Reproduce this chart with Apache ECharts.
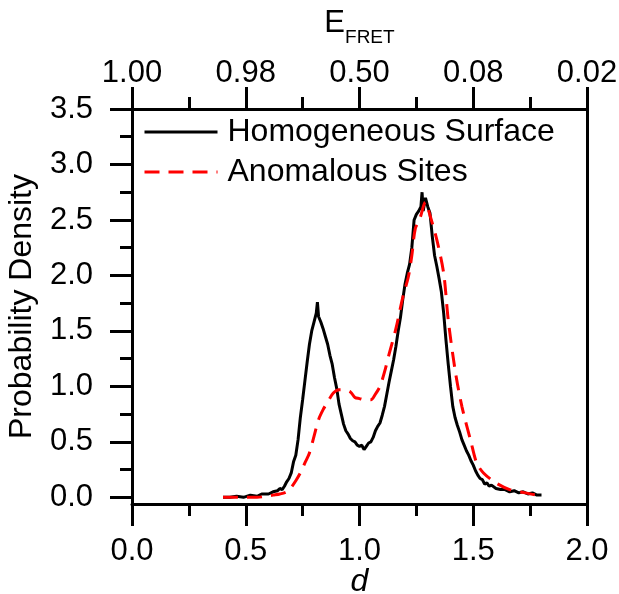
<!DOCTYPE html>
<html>
<head>
<meta charset="utf-8">
<script src="https://cdn.jsdelivr.net/npm/echarts@6/dist/echarts.min.js"></script>
<style>html,body{margin:0;padding:0;background:#fff;}#c{width:619px;height:594px;}</style>
</head>
<body>
<div id="c"></div>
<script>
// ---- data ----
var homX = [0.40,0.43,0.46,0.49,0.52,0.55,0.57,0.60,0.62,0.64,0.65,0.66,0.67,0.68,0.69,0.70,0.71,0.72,0.73,0.74,0.75,0.76,0.77,0.78,0.79,0.80,0.81,0.815,0.82,0.83,0.84,0.85,0.86,0.87,0.88,0.89,0.90,0.91,0.92,0.93,0.94,0.95,0.96,0.97,0.98,0.99,1.00,1.01,1.02,1.03,1.04,1.05,1.06,1.07,1.08,1.09,1.10,1.11,1.12,1.13,1.14,1.15,1.16,1.17,1.18,1.19,1.20,1.21,1.22,1.23,1.24,1.25,1.26,1.27,1.275,1.28,1.29,1.30,1.31,1.32,1.33,1.34,1.35,1.36,1.37,1.38,1.39,1.40,1.41,1.42,1.43,1.44,1.45,1.46,1.47,1.48,1.49,1.50,1.51,1.52,1.53,1.54,1.55,1.56,1.57,1.58,1.60,1.62,1.64,1.66,1.68,1.70,1.72,1.74,1.76,1.78,1.80];
var homY = [0.00,0.00,0.01,0.00,0.02,0.01,0.03,0.03,0.05,0.06,0.08,0.07,0.10,0.14,0.17,0.22,0.32,0.38,0.52,0.72,0.88,1.05,1.22,1.38,1.50,1.58,1.66,1.76,1.63,1.58,1.52,1.45,1.38,1.28,1.20,1.08,0.98,0.84,0.75,0.66,0.60,0.57,0.53,0.51,0.50,0.47,0.46,0.47,0.43,0.46,0.49,0.50,0.54,0.60,0.64,0.67,0.74,0.82,0.93,1.04,1.14,1.24,1.36,1.50,1.62,1.78,1.92,2.02,2.10,2.25,2.50,2.55,2.58,2.62,2.75,2.58,2.70,2.62,2.56,2.35,2.18,2.08,1.97,1.85,1.66,1.42,1.20,1.00,0.82,0.72,0.65,0.59,0.52,0.47,0.42,0.38,0.33,0.29,0.24,0.20,0.17,0.16,0.12,0.13,0.10,0.11,0.08,0.07,0.07,0.05,0.06,0.04,0.05,0.03,0.04,0.02,0.02];
var anoX = [0.40,0.45,0.50,0.55,0.59,0.62,0.65,0.68,0.70,0.72,0.74,0.76,0.78,0.80,0.82,0.84,0.86,0.885,0.91,0.93,0.96,0.98,1.00,1.02,1.05,1.07,1.09,1.11,1.13,1.16,1.19,1.215,1.23,1.245,1.265,1.29,1.31,1.34,1.37,1.39,1.42,1.45,1.49,1.515,1.545,1.60,1.66,1.73,1.80];
var anoY = [0.00,0.00,0.00,0.00,0.01,0.02,0.03,0.05,0.09,0.15,0.22,0.31,0.40,0.55,0.70,0.79,0.86,0.94,0.97,0.97,0.95,0.90,0.89,0.88,0.88,0.93,1.00,1.13,1.29,1.52,1.80,1.99,2.18,2.42,2.51,2.66,2.54,2.32,2.02,1.60,1.15,0.82,0.50,0.31,0.22,0.13,0.07,0.04,0.01];
var seriesNames = ['Homogeneous Surface', 'Anomalous Sites'];
var bottomTickLabels = ['0.0','0.5','1.0','1.5','2.0'];
var topTickLabels = ['1.00','0.98','0.50','0.08','0.02'];
var yMajor = [0,0.5,1,1.5,2,2.5,3,3.5];
var yMinor = [0.25,0.75,1.25,1.75,2.25,2.75,3.25];

var FONT = '"Liberation Sans", Arial, sans-serif';
var chart = echarts.init(document.getElementById('c'), null, {renderer: 'canvas'});
function pairs(xs, ys){ return xs.map(function(x,i){ return [x, ys[i]]; }); }
var axLine = {show: true, onZero: false, lineStyle: {color: '#000', width: 3}};
var xCommon = {
  type: 'value', min: 0, max: 2, interval: 0.5,
  axisLine: axLine,
  axisTick: {show: true, length: 22, lineStyle: {color: '#000', width: 3}},
  minorTick: {show: true, splitNumber: 2, length: 12, lineStyle: {color: '#000', width: 3}},
  splitLine: {show: false}, minorSplitLine: {show: false},
  nameMoveOverlap: false
};
var option = {
  animation: false,
  backgroundColor: '#fff',
  grid: {left: 132, right: 32, top: 109, bottom: 90, containLabel: false, outerBoundsMode: 'none'},
  legend: {
    orient: 'vertical', left: 143, top: 116, padding: 0,
    itemWidth: 73, itemHeight: 14, itemGap: 8,
    itemStyle: {opacity: 0},
    lineStyle: {width: 3},
    textStyle: {fontFamily: FONT, fontSize: 32, color: '#000', padding: [0,0,0,5]},
    data: seriesNames
  },
  xAxis: [
    Object.assign({}, xCommon, {
      position: 'bottom',
      axisLabel: {fontFamily: FONT, fontSize: 31, color: '#000', margin: 32,
        formatter: function(v){ return bottomTickLabels[Math.round(v/0.5)]; }},
      name: 'd', nameLocation: 'middle', nameGap: 62,
      nameTextStyle: {fontFamily: FONT, fontSize: 32, fontStyle: 'italic', color: '#000'}
    }),
    Object.assign({}, xCommon, {
      position: 'top',
      axisLabel: {fontFamily: FONT, fontSize: 31, color: '#000', margin: 20,
        formatter: function(v){ return topTickLabels[Math.round(v/0.5)]; }},
      name: '{e|E}{s|FRET}', nameLocation: 'middle', nameGap: 62,
      nameTextStyle: {
        fontFamily: FONT, color: '#000',
        rich: {
          e: {fontFamily: FONT, fontSize: 31, color: '#000', verticalAlign: 'top', padding: [0,0,8,0]},
          s: {fontFamily: FONT, fontSize: 19, color: '#000', verticalAlign: 'bottom'}
        }
      }
    })
  ],
  yAxis: [
    {
      type: 'value', min: -0.06, max: 3.5, position: 'left',
      axisLine: axLine,
      axisTick: {show: true, length: 22, customValues: yMajor, lineStyle: {color: '#000', width: 3}},
      axisLabel: {fontFamily: FONT, fontSize: 31, color: '#000', margin: 39, customValues: yMajor,
        formatter: function(v){ return v.toFixed(1); }},
      splitLine: {show: false},
      nameMoveOverlap: false,
      name: 'Probability Density', nameLocation: 'middle', nameGap: 94,
      nameTextStyle: {fontFamily: FONT, fontSize: 32, color: '#000'}
    },
    {
      type: 'value', min: -0.06, max: 3.5, position: 'left',
      axisLine: {show: false, onZero: false},
      axisTick: {show: true, length: 12, customValues: yMinor, lineStyle: {color: '#000', width: 3}},
      axisLabel: {show: false},
      splitLine: {show: false}
    },
    {
      type: 'value', min: -0.06, max: 3.5, position: 'right',
      axisLine: axLine,
      axisTick: {show: false}, axisLabel: {show: false}, splitLine: {show: false}
    }
  ],
  series: [
    {
      name: seriesNames[0], type: 'line', xAxisIndex: 0, yAxisIndex: 0,
      data: pairs(homX, homY), symbol: 'none', showSymbol: false,
      lineStyle: {color: '#000', width: 3}, itemStyle: {color: '#000'}, z: 2
    },
    {
      name: seriesNames[1], type: 'line', xAxisIndex: 0, yAxisIndex: 0,
      data: pairs(anoX, anoY), symbol: 'none', showSymbol: false, smooth: 0.3,
      lineStyle: {color: '#ff0000', width: 3, type: [15, 9]}, itemStyle: {color: '#ff0000'}, z: 3
    }
  ]
};
chart.setOption(option);
</script>
</body>
</html>
